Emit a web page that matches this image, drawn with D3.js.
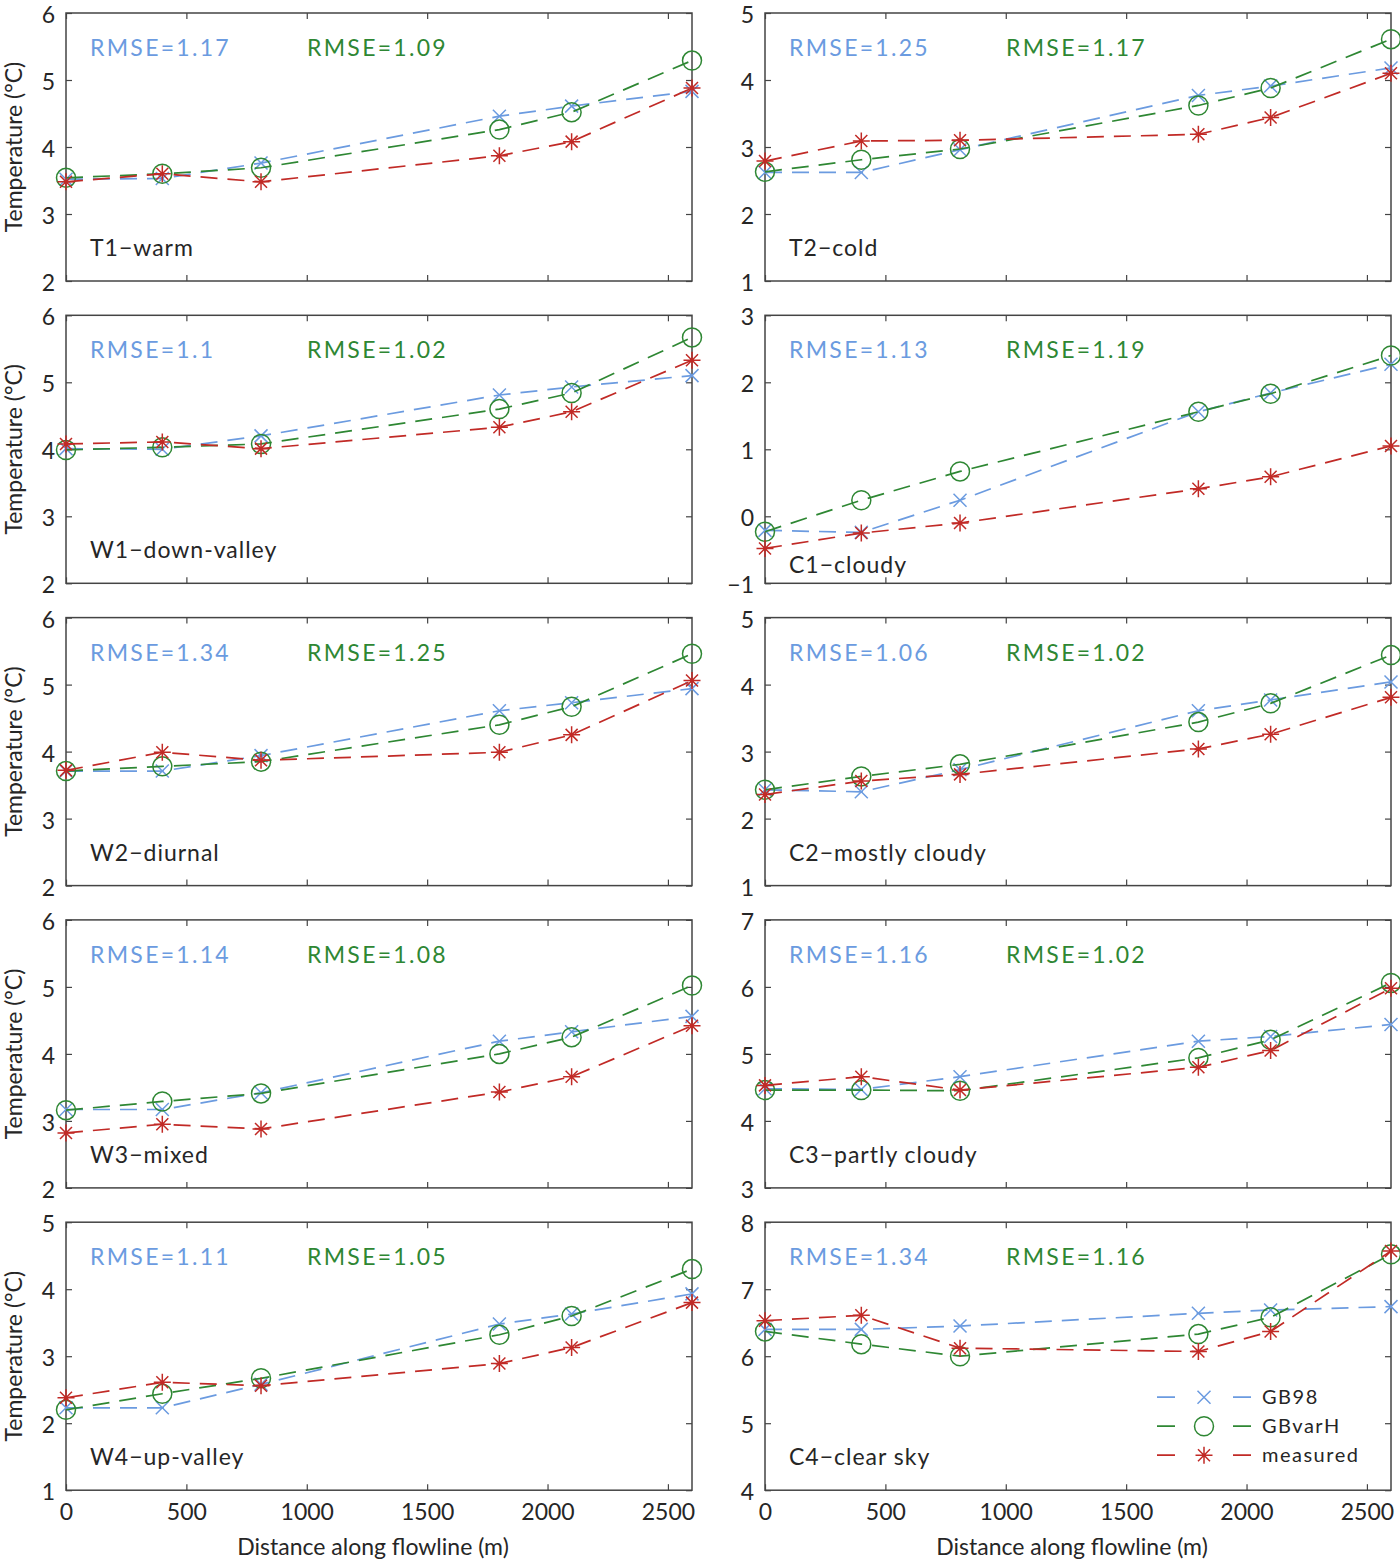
<!DOCTYPE html>
<html>
<head>
<meta charset="utf-8">
<script src="https://cdn.jsdelivr.net/npm/d3@7"></script>
<style>
  body { margin: 0; background: #fff; }
  svg text { font-family: Lato, "Open Sans", sans-serif; fill: #262626; }
</style>
</head>
<body>
<div id="chart"></div>
<script>
// data
const distance = [0, 400, 810, 1800, 2100, 2600];

const panelNames = ["T1\u2212warm", "T2\u2212cold", "W1\u2212down-valley", "C1\u2212cloudy",
                    "W2\u2212diurnal", "C2\u2212mostly cloudy", "W3\u2212mixed", "C3\u2212partly cloudy",
                    "W4\u2212up-valley", "C4\u2212clear sky"];

const yLimits = [[2, 6], [1, 5], [2, 6], [-1, 3], [2, 6], [1, 5], [2, 6], [3, 7], [1, 5], [4, 8]];
const xTickValues = [0, 500, 1000, 1500, 2000, 2500];

const rmseGB98 = ["1.17", "1.25", "1.1", "1.13", "1.34", "1.06", "1.14", "1.16", "1.11", "1.34"];
const rmseGBvarH = ["1.09", "1.17", "1.02", "1.19", "1.25", "1.02", "1.08", "1.02", "1.05", "1.16"];

const gb98 = [
  [3.52, 3.53, 3.76, 4.46, 4.61, 4.83],
  [2.62, 2.62, 2.96, 3.77, 3.91, 4.18],
  [4.01, 4.00, 4.20, 4.81, 4.93, 5.10],
  [-0.21, -0.24, 0.24, 1.56, 1.84, 2.27],
  [3.71, 3.71, 3.94, 4.61, 4.73, 4.94],
  [2.43, 2.40, 2.73, 3.61, 3.77, 4.04],
  [3.17, 3.17, 3.42, 4.19, 4.33, 4.56],
  [4.48, 4.47, 4.66, 5.19, 5.26, 5.44],
  [2.23, 2.23, 2.58, 3.48, 3.63, 3.93],
  [6.40, 6.40, 6.45, 6.64, 6.69, 6.74]
];

const gbvarH = [
  [3.54, 3.60, 3.69, 4.26, 4.52, 5.29],
  [2.63, 2.81, 2.97, 3.62, 3.88, 4.61],
  [3.99, 4.03, 4.08, 4.60, 4.84, 5.67],
  [-0.23, 0.24, 0.67, 1.56, 1.83, 2.40],
  [3.71, 3.78, 3.85, 4.40, 4.67, 5.46],
  [2.43, 2.63, 2.81, 3.44, 3.72, 4.44],
  [3.16, 3.29, 3.41, 4.00, 4.25, 5.02],
  [4.46, 4.46, 4.45, 4.94, 5.21, 6.06],
  [2.20, 2.44, 2.67, 3.32, 3.60, 4.30],
  [6.37, 6.18, 6.00, 6.33, 6.58, 7.52]
];

const measured = [
  [3.48, 3.60, 3.48, 3.87, 4.08, 4.88],
  [2.79, 3.09, 3.10, 3.19, 3.44, 4.10],
  [4.08, 4.11, 4.01, 4.33, 4.56, 5.33],
  [-0.48, -0.25, -0.10, 0.41, 0.59, 1.05],
  [3.72, 3.99, 3.87, 3.99, 4.25, 5.06],
  [2.36, 2.56, 2.66, 3.04, 3.26, 3.81],
  [2.82, 2.95, 2.88, 3.43, 3.66, 4.42],
  [4.53, 4.66, 4.46, 4.80, 5.05, 5.98],
  [2.38, 2.61, 2.56, 2.89, 3.13, 3.80],
  [6.53, 6.61, 6.12, 6.07, 6.37, 7.57]
];

const seriesNames = ["GB98", "GBvarH", "measured"];

// layout
const W = 1400, H = 1563;
const plotW = 626, plotH = 268;
const colLeft = [66, 765];
const rowTop = [13, 315.3, 617.6, 919.9, 1222.2];
const labelLift = [25, 25, 25, 10, 25, 25, 25, 25, 25, 25];

const colors = ["#6b9be0", "#2e8733", "#c12a26"];
const markerKind = ["cross", "circle", "star"];
const dash = "17,10";
const fmt = d3.format("d");

const svg = d3.select("#chart").append("svg")
  .attr("width", W)
  .attr("height", H);

const x = d3.scaleLinear().domain([0, 2600]).range([0, plotW]);

function drawMarker(g, kind, cx, cy, color) {
  if (kind === "circle") {
    g.append("circle").attr("cx", cx).attr("cy", cy).attr("r", 9.5)
      .attr("fill", "none").attr("stroke", color).attr("stroke-width", 1.5);
  } else if (kind === "cross") {
    g.append("path")
      .attr("d", "M-6.5,-6.5L6.5,6.5M-6.5,6.5L6.5,-6.5")
      .attr("transform", "translate(" + cx + "," + cy + ")")
      .attr("fill", "none").attr("stroke", color).attr("stroke-width", 1.5);
  } else {
    g.append("path")
      .attr("d", "M-8.5,0H8.5M0,-8.5V8.5M-6,-6L6,6M-6,6L6,-6")
      .attr("transform", "translate(" + cx + "," + cy + ")")
      .attr("fill", "none").attr("stroke", color).attr("stroke-width", 1.5);
  }
}

panelNames.forEach((name, i) => {
  const row = Math.floor(i / 2), col = i % 2;
  const left = colLeft[col], top = rowTop[row];
  const y = d3.scaleLinear().domain(yLimits[i]).range([plotH, 0]);
  const yTicks = d3.range(yLimits[i][0], yLimits[i][1] + 1);

  const g = svg.append("g").attr("transform", "translate(" + left + "," + top + ")");

  // axes, MATLAB style ticks pointing inwards
  g.append("g").call(d3.axisLeft(y).tickValues(yTicks).tickSize(-6).tickPadding(11).tickFormat(fmt))
    .call(a => a.select(".domain").remove())
    .call(a => a.selectAll("text").attr("font-size", 23).attr("dy", "0.42em"));
  g.append("g").attr("transform", "translate(" + plotW + ",0)")
    .call(d3.axisRight(y).tickValues(yTicks).tickSize(-6).tickFormat(""))
    .call(a => a.select(".domain").remove());
  g.append("g")
    .call(d3.axisTop(x).tickValues(xTickValues).tickSize(-6).tickFormat(""))
    .call(a => a.select(".domain").remove());
  const bottomAxis = d3.axisBottom(x).tickValues(xTickValues).tickSize(-6).tickPadding(13)
    .tickFormat(row < 4 ? "" : fmt);
  g.append("g").attr("transform", "translate(0," + plotH + ")")
    .call(bottomAxis)
    .call(a => a.select(".domain").remove())
    .call(a => a.selectAll("text").attr("font-size", 23));
  g.selectAll(".tick line").attr("stroke", "#444").attr("stroke-width", 1.2);

  g.append("rect")
    .attr("width", plotW).attr("height", plotH)
    .attr("fill", "none").attr("stroke", "#444").attr("stroke-width", 1.5);

  // series
  [gb98[i], gbvarH[i], measured[i]].forEach((vals, s) => {
    const pts = distance.map((d, k) => [x(d), y(vals[k])]);
    g.append("path")
      .attr("d", d3.line()(pts))
      .attr("fill", "none")
      .attr("stroke", colors[s])
      .attr("stroke-width", 1.7)
      .attr("stroke-dasharray", dash);
    pts.forEach(p => drawMarker(g, markerKind[s], p[0], p[1], colors[s]));
  });

  // annotations
  g.append("text").attr("x", 24).attr("y", 43)
    .attr("font-size", 23).attr("letter-spacing", "2.3px")
    .style("fill", colors[0]).text("RMSE=" + rmseGB98[i]);
  g.append("text").attr("x", 241).attr("y", 43)
    .attr("font-size", 23).attr("letter-spacing", "2.3px")
    .style("fill", colors[1]).text("RMSE=" + rmseGBvarH[i]);
  g.append("text").attr("x", 24).attr("y", plotH - labelLift[i])
    .attr("font-size", 23).attr("letter-spacing", "1px")
    .text(name);

  if (col === 0) {
    g.append("text")
      .attr("transform", "translate(" + (22 - left) + "," + (plotH / 2) + ") rotate(-90)")
      .attr("text-anchor", "middle")
      .attr("font-size", 23)
      .text("Temperature (\u00B0C)");
  }
  if (row === 4) {
    g.append("text")
      .attr("x", plotW / 2 - 6).attr("y", plotH + 65)
      .attr("text-anchor", "middle")
      .attr("font-size", 23)
      .text("Distance along flowline (m)");
  }

  // legend in the last panel
  if (i === 9) {
    const lg = g.append("g").attr("transform", "translate(392,175)");
    seriesNames.forEach((s, k) => {
      const yy = k * 29;
      lg.append("line").attr("x1", 0).attr("x2", 96).attr("y1", yy).attr("y2", yy)
        .attr("stroke", colors[k]).attr("stroke-width", 1.7)
        .attr("stroke-dasharray", "18,58");
      drawMarker(lg, markerKind[k], 47, yy, colors[k]);
      lg.append("text").attr("x", 105).attr("y", yy + 7)
        .attr("font-size", 20).attr("letter-spacing", "1.5px")
        .text(s);
    });
  }
});
</script>
</body>
</html>
